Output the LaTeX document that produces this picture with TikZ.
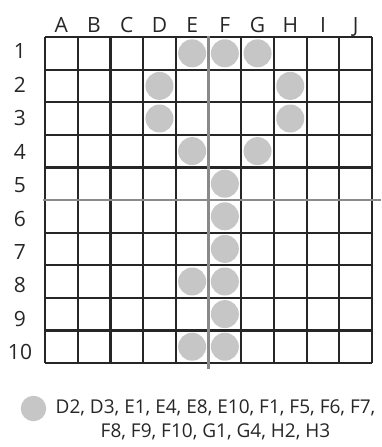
\documentclass[tikz,border=0pt]{standalone}
\usepackage{fontspec}
\setmainfont{Open Sans}
\definecolor{dotgray}{HTML}{C6C6C6}
\definecolor{gridblack}{HTML}{262626}
\definecolor{axisgray}{HTML}{8A8A8A}
\begin{document}
\begin{tikzpicture}[x=1pt,y=-1pt,
  gridline/.style={draw=gridblack,line width=2.2pt},
  axisline/.style={draw=axisgray,line width=2.2pt},
  dot/.style={circle,fill=dotgray,inner sep=0pt,minimum size=28pt},
  lbl/.style={inner sep=0pt,font=\fontsize{21}{21}\selectfont,text=gridblack},
  legtext/.style={inner sep=0pt,font=\fontsize{19}{24}\selectfont,text=gridblack,align=center}]
\useasboundingbox (0,0) rectangle (381,447);
\def\cw{32.7}\def\ch{32.6}
% grid
\foreach \i in {0,...,10} {
  \draw[gridline] ({45+\i*\cw},37) -- ({45+\i*\cw},{37+10*\ch});
  \draw[gridline] (45,{37+\i*\ch}) -- ({45+10*\cw},{37+\i*\ch});
}
% axis lines
\draw[axisline] (43,200) -- (381,200);
\draw[axisline] (208.5,36) -- (208.5,369);
% column labels
\foreach \l [count=\i from 0] in {A,B,C,D,E,F,G,H,I,J}
  \node[lbl,anchor=base] (col\l) at ({45+(\i+0.5)*\cw},32) {\l};
% row labels
\foreach \r in {1,...,10}
  \node[lbl] (row\r) at (20,{51.5+(\r-1)*33.4}) {\r};
% dots
\foreach \c/\r in {4/1,5/1,6/1,3/2,7/2,3/3,7/3,4/4,6/4,5/5,5/6,5/7,4/8,5/8,5/9,4/10,5/10}
  \node[dot] (dot-\c-\r) at ({45+(\c+0.5)*\cw},{37+(\r-0.5)*\ch}) {};
% legend
\node[dot,minimum size=25.5pt] (legdot) at (33.5,408.5) {};
\node[legtext] (legend) at (215.5,420) {D2, D3, E1, E4, E8, E10, F1, F5, F6, F7,\\F8, F9, F10, G1, G4, H2, H3};
\end{tikzpicture}
\end{document}
